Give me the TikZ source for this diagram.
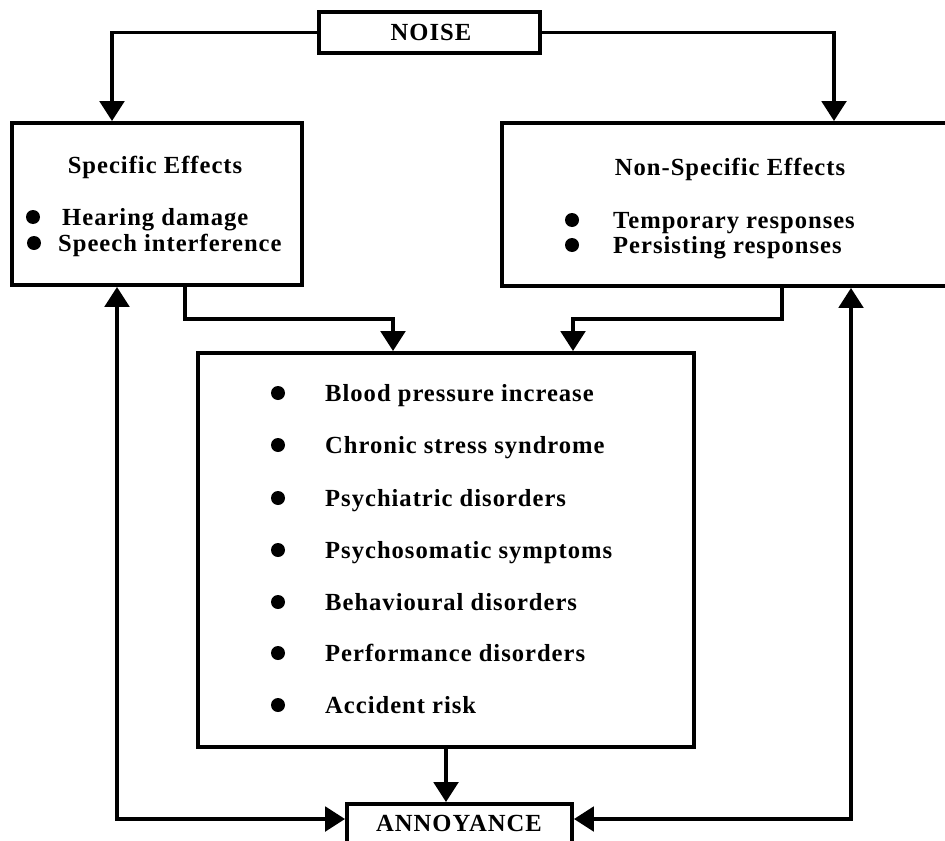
\documentclass[tikz,border=0pt]{standalone}
\usepackage{fontspec}
\setmainfont{Liberation Serif}[LetterSpace=4]
\usetikzlibrary{arrows.meta}
\begin{document}
\begin{tikzpicture}[x=0.03cm, y=-0.03cm,
  box/.style={draw, line width=3.4pt, inner sep=0},
  tip/.tip={Triangle[length=17pt, width=21pt]},
  link/.style={line width=2.9pt, -tip},
  linkboth/.style={line width=2.9pt, tip-tip},
  txt/.style={inner sep=0, font=\bfseries\fontsize{21}{24}\selectfont,
              text height=13.9pt, text depth=0pt},
  item/.style={txt, anchor=west},
  dot/.style={circle, fill, inner sep=0, minimum size=14*0.03cm}]
\useasboundingbox (0,0) rectangle (945,841);
\clip (0,0) rectangle (945,841);
\fill[white] (0,0) rectangle (945,841);

% boxes
\node[box, minimum width=221*0.03cm, minimum height=41*0.03cm] (noise) at (429.5,32.5) {};
\node[box, minimum width=290*0.03cm, minimum height=162*0.03cm] (lb) at (157,204) {};
\node[box, minimum width=450*0.03cm, minimum height=163*0.03cm] (rb) at (727,204.5) {};
\node[box, minimum width=496*0.03cm, minimum height=394*0.03cm] (mb) at (446,550) {};
\node[box, minimum width=225*0.03cm, minimum height=46*0.03cm] (ann) at (459.5,827) {};

% labels
\node[txt] (noiset) at (431,32) {NOISE};
\node[txt] (annt) at (459,823) {ANNOYANCE};

\node[txt] (lbt) at (155,165) {Specific Effects};
\node[dot] (lbd1) at (33,217) {};
\node[item] (lbi1) at (62,217) {Hearing damage};
\node[dot] (lbd2) at (34,243) {};
\node[item] (lbi2) at (58,243) {Speech interference};

\node[txt] (rbt) at (730,167) {Non-Specific Effects};
\node[dot] (rbd1) at (572,220) {};
\node[item] (rbi1) at (613,220) {Temporary responses};
\node[dot] (rbd2) at (572,245) {};
\node[item] (rbi2) at (613,245) {Persisting responses};

\foreach \y/\t [count=\i] in {393/Blood pressure increase,
                              445/Chronic stress syndrome,
                              498/Psychiatric disorders,
                              550/Psychosomatic symptoms,
                              602/Behavioural disorders,
                              653/Performance disorders,
                              705/Accident risk}{
  \node[dot] (mbd\i) at (278,\y) {};
  \node[item] (mbi\i) at (325,\y) {\t};
}

% routing columns and rows
\coordinate (nl) at (112,0);
\coordinate (nr) at (834,0);
\coordinate (lo) at (185,0);
\coordinate (ro) at (782,0);
\coordinate (mi1) at (393,0);
\coordinate (mi2) at (573,0);
\coordinate (mc) at (446,0);
\coordinate (lc) at (117,0);
\coordinate (rc) at (851,0);
\coordinate (row) at (0,319);
\coordinate (low) at (0,819);

% connectors
\draw[link] (noise.west) -| (nl |- lb.north);
\draw[link] (noise.east) -| (nr |- rb.north);
\draw[link] (lo |- lb.south) |- (mi1 |- row) -- (mi1 |- mb.north);
\draw[link] (ro |- rb.south) |- (mi2 |- row) -- (mi2 |- mb.north);
\draw[link] (mc |- mb.south) -- (mc |- ann.north);
\draw[linkboth] (lc |- lb.south) -- (lc |- low) -- (ann.west |- low);
\draw[linkboth] (rc |- rb.south) -- (rc |- low) -- (ann.east |- low);
\end{tikzpicture}
\end{document}
